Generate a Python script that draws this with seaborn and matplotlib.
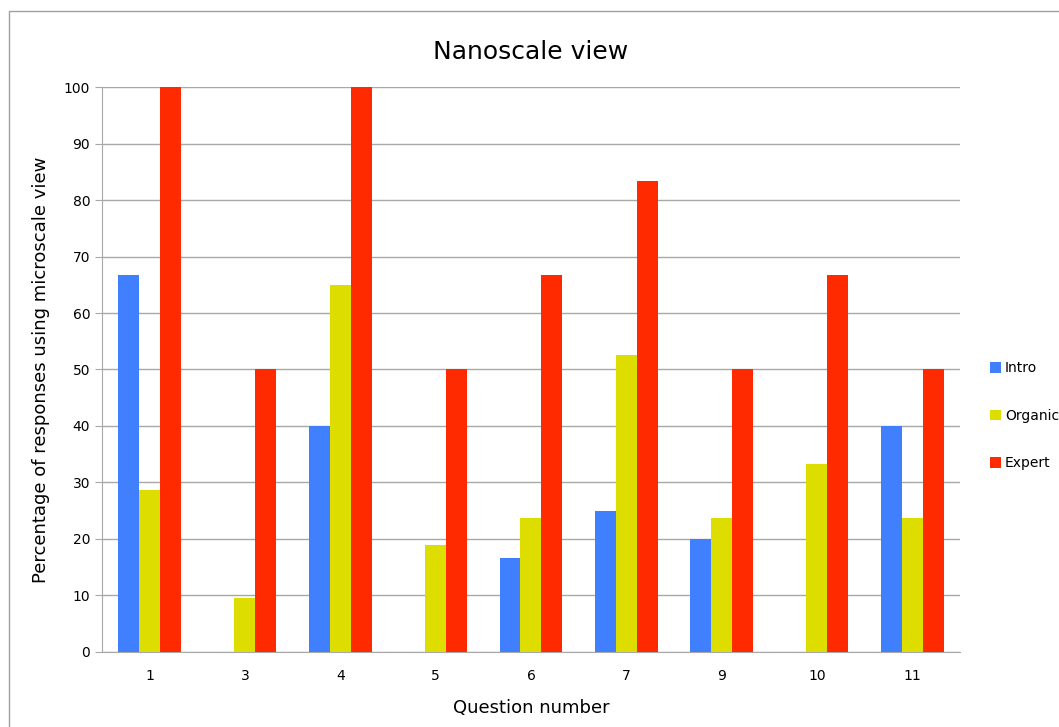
import pandas as pd
import matplotlib
matplotlib.use('Agg')
from matplotlib import pyplot as plt
from matplotlib.patches import Rectangle
import seaborn as sns

questions = ['1', '3', '4', '5', '6', '7', '9', '10', '11']
intro = [66.7, 0, 40, 0, 16.7, 25, 20, 0, 40]
organic = [28.6, 9.5, 65, 19, 23.8, 52.6, 23.8, 33.3, 23.8]
expert = [100, 50, 100, 50, 66.7, 83.3, 50, 66.7, 50]
groups = ['Intro', 'Organic', 'Expert']
colors = ['#4080FF', '#DDDD00', '#FF2A00']

df = pd.DataFrame({'Question': questions, 'Intro': intro, 'Organic': organic, 'Expert': expert})
df = df.melt(id_vars='Question', var_name='Group', value_name='Percent')

sns.set_style('white')
plt.rcParams['font.family'] = ['DejaVu Sans']
plt.rcParams['text.color'] = 'black'
plt.rcParams['axes.labelcolor'] = 'black'
plt.rcParams['xtick.color'] = 'black'
plt.rcParams['ytick.color'] = 'black'

fig = plt.figure(figsize=(10.59, 7.27), dpi=100)
ax = fig.add_axes([0.0963, 0.1032, 0.8102, 0.7771])

sns.barplot(data=df, x='Question', y='Percent', hue='Group', order=questions,
            hue_order=groups, palette=colors, width=0.66, saturation=1,
            linewidth=0, edgecolor='none', ax=ax, zorder=3)

ax.set_ylim(0, 100)
ax.set_yticks(range(0, 101, 10))
ax.grid(axis='y', color='#a8a8a8', linewidth=1, zorder=0)
ax.set_axisbelow(True)
for s in ['top', 'right']:
    ax.spines[s].set_visible(False)
ax.spines['left'].set_color('#a8a8a8')
ax.spines['bottom'].set_color('#a8a8a8')
ax.tick_params(axis='y', length=5, color='#a8a8a8', labelcolor='black', labelsize=10, left=True)
ax.tick_params(axis='x', length=0, labelcolor='black', labelsize=10, pad=12)

ax.set_title('Nanoscale view', fontsize=18, pad=20, color='black')
ax.set_xlabel('Question number', fontsize=13, labelpad=12)
ax.set_ylabel('Percentage of responses using microscale view', fontsize=13, labelpad=10)

leg = ax.legend(loc='center left', bbox_to_anchor=(1.02, 0.418), frameon=False,
                fontsize=10, handlelength=0.8, handleheight=0.8, labelspacing=2.4,
                handletextpad=0.3)
for t in leg.get_texts():
    t.set_color('black')

fig.patches.append(Rectangle((9 / 1059, -0.05), 1.1, 1 - 11 / 727 + 0.05,
                             transform=fig.transFigure, fill=False,
                             edgecolor='#a0a0a0', linewidth=1))

fig.savefig('out.png', dpi=100)
